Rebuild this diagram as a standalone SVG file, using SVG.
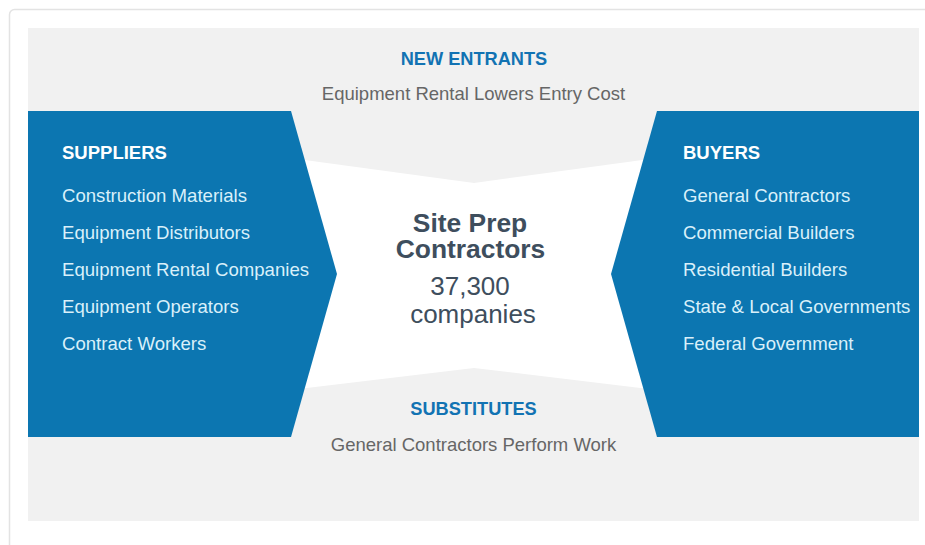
<svg xmlns="http://www.w3.org/2000/svg" width="925" height="545" viewBox="0 0 925 545">
<style>
.hd{font-family:"Liberation Sans",Arial,sans-serif;font-weight:bold;font-size:18.2px;fill:#1273b3;text-anchor:middle}
.sub{font-family:"Liberation Sans",Arial,sans-serif;font-size:18.5px;fill:#666666;text-anchor:middle}
.bh{font-family:"Liberation Sans",Arial,sans-serif;font-weight:bold;font-size:18.5px;fill:#ffffff}
.li{font-family:"Liberation Sans",Arial,sans-serif;font-size:18.6px;fill:#d9f0fa}
.ct{font-family:"Liberation Sans",Arial,sans-serif;font-weight:bold;font-size:26.4px;fill:#3e4e5d;text-anchor:middle}
.cn{font-family:"Liberation Sans",Arial,sans-serif;font-size:26px;fill:#3e4e5d;text-anchor:middle}
.blue{fill:#0c76b1}
</style>
<rect x="0" y="0" width="925" height="545" fill="#ffffff"/>
<rect x="9.5" y="9.5" width="940" height="560" rx="5" fill="#ffffff" stroke="#e3e3e3" stroke-width="1.5"/>
<rect x="28" y="28" width="891" height="493" fill="#f1f1f1"/>
<g id="center">
<polygon points="290,158 474,183 657,158 657,390 474,368 290,390" fill="#ffffff"/>
<text class="ct" x="470" y="232">Site Prep</text>
<text class="ct" x="470.5" y="258">Contractors</text>
<text class="cn" x="470" y="295">37,300</text>
<text class="cn" x="473" y="323">companies</text>
</g>
<g id="new-entrants">
<text class="hd" x="474" y="65">NEW ENTRANTS</text>
<text class="sub" x="473.5" y="100">Equipment Rental Lowers Entry Cost</text>
</g>
<g id="substitutes">
<text class="hd" x="473.5" y="415">SUBSTITUTES</text>
<text class="sub" x="473.5" y="451">General Contractors Perform Work</text>
</g>
<g id="suppliers">
<polygon class="blue" points="28,111 291,111 337,274 291,437 28,437"/>
<text class="bh" x="62" y="158.5">SUPPLIERS</text>
<text class="li" x="62" y="202">Construction Materials</text>
<text class="li" x="62" y="239">Equipment Distributors</text>
<text class="li" x="62" y="276">Equipment Rental Companies</text>
<text class="li" x="62" y="313">Equipment Operators</text>
<text class="li" x="62" y="350">Contract Workers</text>
</g>
<g id="buyers">
<polygon class="blue" points="919,111 657,111 611,274 657,437 919,437"/>
<text class="bh" x="683" y="158.5">BUYERS</text>
<text class="li" x="683" y="202">General Contractors</text>
<text class="li" x="683" y="239">Commercial Builders</text>
<text class="li" x="683" y="276">Residential Builders</text>
<text class="li" x="683" y="313">State &amp; Local Governments</text>
<text class="li" x="683" y="350">Federal Government</text>
</g>
<g id="connectors"></g>
</svg>
